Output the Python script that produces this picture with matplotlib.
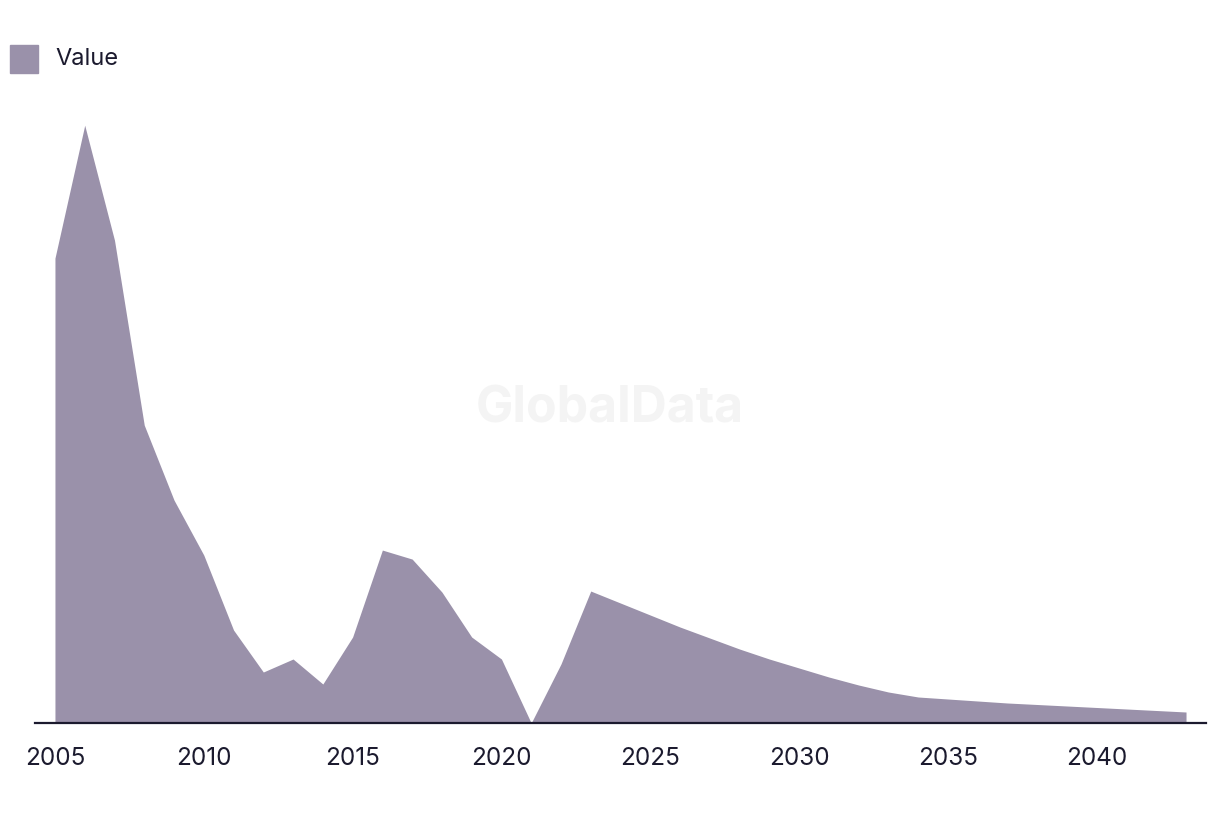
import matplotlib.pyplot as plt
from matplotlib.patches import Rectangle

years = list(range(2005, 2044))
values = [465, 598, 483, 298, 223, 168, 93, 51, 64, 39,
          86, 173, 164, 131, 86, 64, 0, 59, 132, 120,
          108, 96, 85, 74, 64, 55, 46, 38, 31, 26,
          24, 22, 20, 18.5, 17, 15.5, 14, 12.5, 11]
tick_years = [2005, 2010, 2015, 2020, 2025, 2030, 2035, 2040]

area_color = '#9a91aa'
text_color = '#1b1a2e'

plt.rcParams['font.family'] = ['Inter', 'DejaVu Sans']

fig = plt.figure(figsize=(12.2, 8.14), dpi=100)
ax = fig.add_axes([0.0287, 0.1118, 0.9598, 0.7982])

ax.fill_between(years, values, 0, color=area_color, linewidth=0)

ax.set_xlim(2004.33, 2043.67)
ax.set_ylim(0, 650)

for s in ['top', 'right', 'left']:
    ax.spines[s].set_visible(False)
ax.spines['bottom'].set_color(text_color)
ax.spines['bottom'].set_linewidth(1.6)
ax.set_yticks([])
ax.set_xticks(tick_years)
ax.set_xticklabels([str(y) for y in tick_years], fontsize=17.5, color=text_color)
ax.tick_params(axis='x', length=0, pad=17)

# watermark
fig.text(0.5, 0.498, 'GlobalData', fontsize=36, fontweight='bold',
         color='#f4f4f4', ha='center', va='center', zorder=0)

# legend
fig.patches.append(Rectangle((10 / 1220, 1 - 73 / 814), 28 / 1220, 28 / 814,
                             transform=fig.transFigure, color=area_color))
fig.text(55 / 1220, 1 - 59 / 814, 'Value', fontsize=17, color=text_color,
         ha='left', va='center')

plt.savefig('out.png', dpi=100)
